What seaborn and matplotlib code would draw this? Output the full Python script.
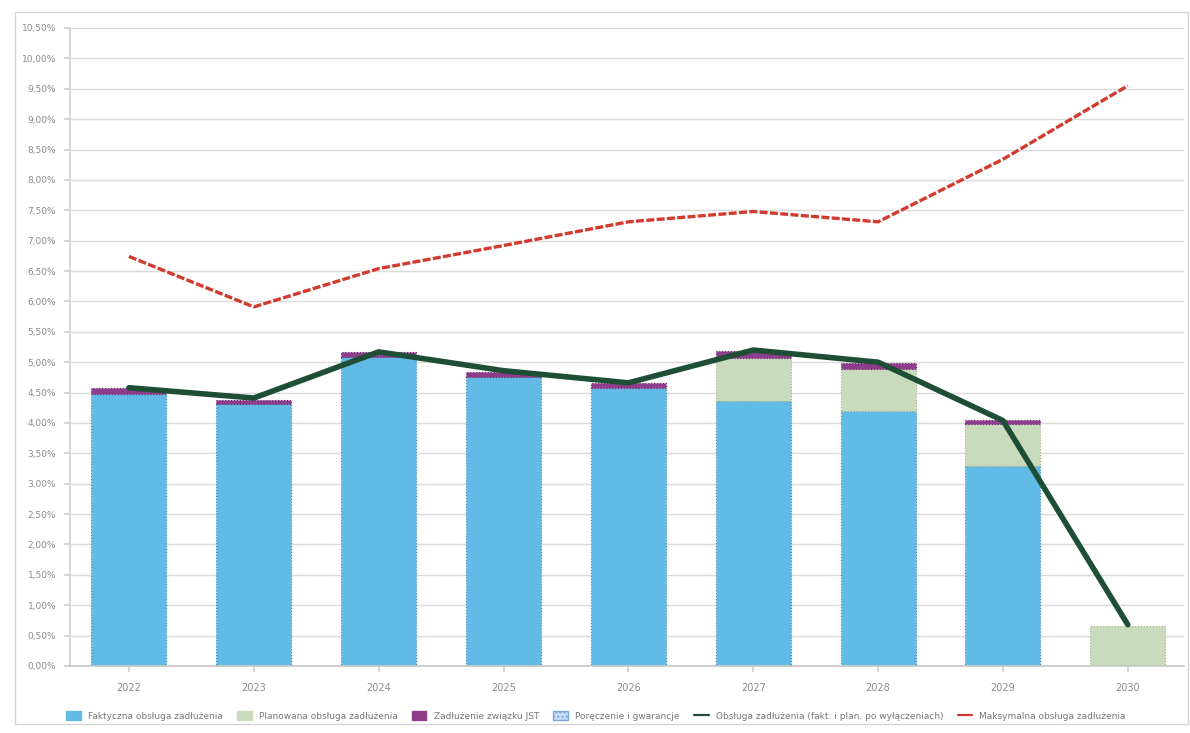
import numpy as np
import pandas as pd
import matplotlib
matplotlib.use("Agg")
import matplotlib.pyplot as plt
from matplotlib.patches import Patch, Rectangle
from matplotlib.lines import Line2D
from matplotlib.ticker import MultipleLocator, FuncFormatter
import seaborn as sns

# ---- data (values in %) ----
years = ["2022", "2023", "2024", "2025", "2026", "2027", "2028", "2029", "2030"]
faktyczna = [4.48, 4.31, 5.09, 4.76, 4.57, 4.36, 4.19, 3.29, 0.00]
planowana = [0.00, 0.00, 0.00, 0.00, 0.00, 0.71, 0.69, 0.69, 0.66]
zwiazek_jst = [0.09, 0.07, 0.08, 0.08, 0.08, 0.12, 0.10, 0.07, 0.00]
poreczenia = [0.00, 0.00, 0.00, 0.00, 0.00, 0.00, 0.00, 0.00, 0.00]
obsluga_po_wyl = [4.58, 4.41, 5.17, 4.86, 4.66, 5.20, 5.00, 4.04, 0.68]
maks_obsluga = [6.74, 5.91, 6.54, 6.92, 7.31, 7.48, 7.31, 8.34, 9.55]

labels = [
    "Faktyczna obsługa zadłużenia",
    "Planowana obsługa zadłużenia",
    "Zadłużenie związku JST",
    "Poręczenie i gwarancje",
    "Obsługa zadłużenia (fakt. i plan. po wyłączeniach)",
    "Maksymalna obsługa zadłużenia",
]

c_blue = "#62BAE6"
c_green = "#C8DBBC"
c_purple = "#8E3D8C"
c_por = "#C9DDF4"
c_line = "#1E4F36"
c_red = "#D23A2E"
c_text = "#8A8A8A"

sns.set_theme(style="white")
plt.rcParams["font.family"] = ["DejaVu Sans"]

fig = plt.figure(figsize=(11.9, 7.33), dpi=100)
ax = fig.add_axes([70 / 1190, 1 - 666 / 733, (1184 - 70) / 1190, (666 - 28) / 733])

df = pd.DataFrame({
    "rok": years,
    "fakt": faktyczna,
    "plan": planowana,
    "jst": zwiazek_jst,
    "por": poreczenia,
})
b1 = np.array(faktyczna)
b2 = b1 + np.array(planowana)
b3 = b2 + np.array(zwiazek_jst)

common = dict(ax=ax, width=0.6, linestyle=":", linewidth=0.8, saturation=1, zorder=2)
sns.barplot(data=df, x="rok", y="fakt", color=c_blue, edgecolor="#3f8fbf", **common)
sns.barplot(data=df, x="rok", y="plan", bottom=b1, color=c_green, edgecolor="#9db08f", **common)
sns.barplot(data=df, x="rok", y="jst", bottom=b2, color=c_purple, edgecolor="#6d2a6b", **common)
sns.barplot(data=df, x="rok", y="por", bottom=b3, color=c_por, edgecolor="#7fa6dc", **common)

# hide edges of zero-height segments
for p in ax.patches:
    if abs(p.get_height()) < 1e-9:
        p.set_edgecolor("none")

pos = np.arange(len(years))
sns.lineplot(x=pos, y=obsluga_po_wyl, ax=ax, color=c_line, linewidth=4, zorder=4)
sns.lineplot(x=pos, y=maks_obsluga, ax=ax, color=c_red, linewidth=2.4,
             linestyle=(0, (2.4, 0.7)), zorder=4)

ax.set_xlim(-0.472, 8.45)
ax.set_ylim(0, 10.5)
ax.yaxis.set_major_locator(MultipleLocator(0.5))
ax.yaxis.set_major_formatter(FuncFormatter(lambda v, p: f"{v:.2f}%".replace(".", ",")))
ax.grid(axis="y", color="#DADADA", linewidth=1.0, zorder=0)
ax.set_axisbelow(True)
ax.set_xlabel("")
ax.set_ylabel("")
for s in ["top", "right"]:
    ax.spines[s].set_visible(False)
ax.spines["left"].set_color("#D0D0D0")
ax.spines["bottom"].set_color("#C8C8C8")
ax.tick_params(axis="y", labelsize=6.5, labelcolor=c_text, length=4, color="#D0D0D0", pad=6, left=True)
ax.tick_params(axis="x", labelsize=7, labelcolor=c_text, length=4, color="#D0D0D0", pad=8, bottom=True)

# outer frame
fig.patches.append(Rectangle((15 / 1190, 1 - 724 / 733), (1188 - 15) / 1190, (724 - 12) / 733,
                             transform=fig.transFigure, fill=False, edgecolor="#D5D5D5",
                             linewidth=1.0))

handles = [
    Patch(facecolor=c_blue, edgecolor=c_blue),
    Patch(facecolor=c_green, edgecolor=c_green),
    Patch(facecolor=c_purple, edgecolor=c_purple),
    Patch(facecolor=c_por, edgecolor="#7fa6dc", hatch="...."),
    Line2D([0], [0], color=c_line, linewidth=1.6),
    Line2D([0], [0], color=c_red, linewidth=1.6),
]
fig.legend(handles, labels, loc="center left", bbox_to_anchor=(58 / 1190, 1 - 716 / 733),
           ncol=6, frameon=False, fontsize=6.5, labelcolor="#777777",
           handlelength=1.6, handleheight=1.1, handletextpad=0.8, columnspacing=1.6)

fig.savefig("out.png", dpi=100, facecolor="white")
